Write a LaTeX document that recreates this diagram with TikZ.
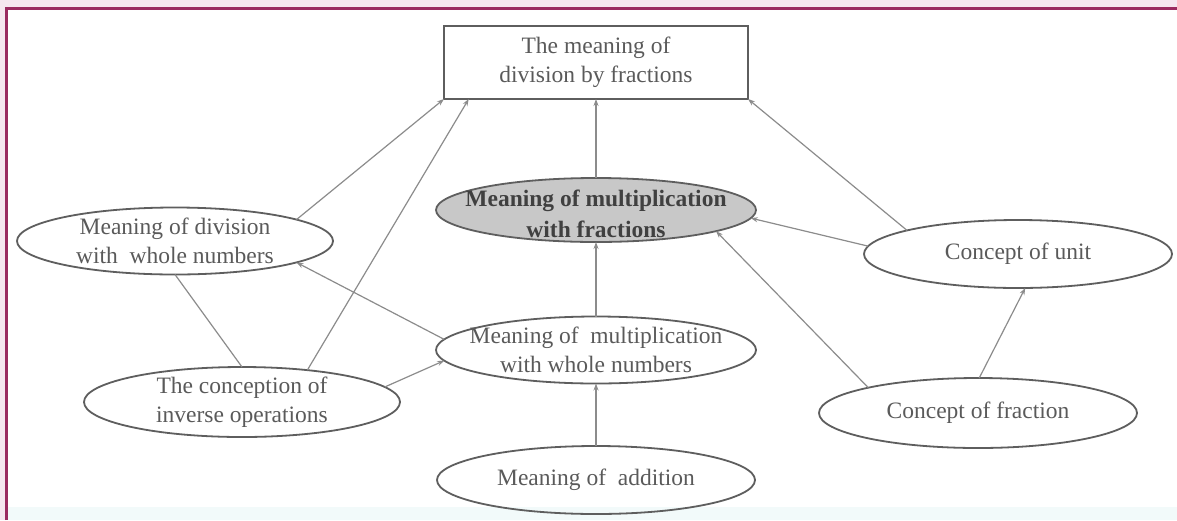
\documentclass[tikz,border=0pt]{standalone}
\usepackage{fontspec}
\setmainfont{Liberation Serif}
\usetikzlibrary{shapes.geometric,arrows.meta}
\definecolor{framecol}{HTML}{9A2A60}
\definecolor{pinkbg}{HTML}{F5E6EF}
\definecolor{linecol}{HTML}{8C8C8C}
\definecolor{edgecol}{HTML}{5E5E5E}
\definecolor{txtcol}{HTML}{5A5A5A}
\definecolor{mftxt}{HTML}{404040}
\definecolor{grayfill}{HTML}{C8C8C8}
\definecolor{stripcol}{HTML}{F2FAFA}
\begin{document}
\begin{tikzpicture}[x=1pt,y=-1pt,
  ell/.style={draw=edgecol, line width=1.8pt, ellipse, inner sep=0pt, outer sep=0pt},
  txt/.style={align=center, text=txtcol, font=\fontsize{23.5}{29}\selectfont, inner sep=0pt},
  conn/.style={draw=linecol, line width=1.2pt},
  arr/.style={conn, -{Stealth[length=7pt,width=5pt]}}]
\useasboundingbox (0,0) rectangle (1177,520);
\fill[pinkbg] (0,0) rectangle (1177,520);
\fill[white] (8,9) rectangle (1177,507);
\fill[stripcol] (8,507) rectangle (1177,520);
\draw[framecol, line width=3pt] (6.5,520) -- (6.5,8.5) -- (1177,8.5);

\node[txt, draw=edgecol, line width=1.8pt, minimum width=304pt, minimum height=73pt, outer sep=0pt] (box) at (596,62.5) {The meaning of\\division by fractions};

\node[ell, fill=grayfill, minimum width=320pt, minimum height=64pt] (mf) at (596,210) {};
\node[txt, text=mftxt, font=\bfseries\fontsize{23.5}{31}\selectfont] (mft) at (596,214) {Meaning of multiplication\\with fractions};

\node[ell, minimum width=316pt, minimum height=67pt] (dw) at (175,241) {};
\node[txt] (dwt) at (dw) {Meaning of division\\with\ \ whole numbers};

\node[ell, minimum width=316pt, minimum height=70pt] (io) at (242,402) {};
\node[txt] (iot) at (io) {The conception of\\inverse operations};

\node[ell, minimum width=320pt, minimum height=67pt] (mw) at (596,350) {};
\node[txt] (mwt) at (mw) {Meaning of\ \ multiplication\\with whole numbers};

\node[ell, minimum width=318pt, minimum height=68pt] (ad) at (596,480) {};
\node[txt] (adt) at (ad) {Meaning of\ \ addition};

\node[ell, minimum width=308pt, minimum height=68pt] (cu) at (1018,254) {};
\node[txt] (cut) at (cu) {Concept of unit};

\node[ell, minimum width=318pt, minimum height=70pt] (cf) at (978,413) {};
\node[txt] (cft) at (cf) {Concept of fraction};

\draw[arr] (dw.10) -- (box.south west);
\draw[arr] (io.26) -- (box.196.5);
\draw[arr] (mf.north) -- (box.south);
\draw[arr] (cu.168) -- (box.south east);
\draw[arr] (cu.177) -- (mf.357);
\draw[arr] (cf.167) -- (mf.350);
\draw[arr] (cf.88) -- (cu.282);
\draw[arr] (mw.north) -- (mf.south);
\draw[arr] (ad.north) -- (mw.south);
\draw[arr] (io.6) -- (mw.184);
\draw[arr] (mw.176) -- (dw.350);
\draw[conn] (dw.south) -- (io.north);
\end{tikzpicture}
\end{document}
